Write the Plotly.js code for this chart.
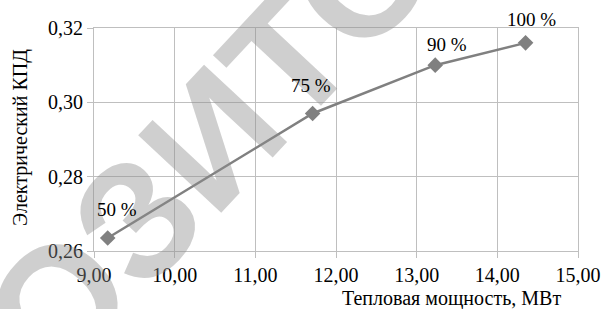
<!DOCTYPE html>
<html>
<head>
<meta charset="utf-8">
<script src="https://cdn.plot.ly/plotly-3.0.1.min.js"></script>
<style>html,body{margin:0;padding:0;background:#fff}#chart{width:607px;height:309px}</style>
</head>
<body>
<div id="chart"></div>
<script>
// Data
var heatPower = [9.17, 11.71, 13.23, 14.35];          // Тепловая мощность, МВт
var efficiency = [0.2635, 0.2970, 0.3100, 0.3160];    // Электрический КПД
var loadLabels = ['50 %', '75 %', '90 %', '100 %'];
var xTicks = [9, 10, 11, 12, 13, 14, 15];
var yTicks = [0.26, 0.28, 0.30, 0.32];

var serif = 'Liberation Serif, Times New Roman, serif';
var labelXShift = [9, -2, 12, 6];
var labelYShift = [28, 28, 21, 23];

var trace = {
  x: heatPower,
  y: efficiency,
  mode: 'lines+markers',
  line: {color: '#808080', width: 2.5},
  marker: {symbol: 'diamond', size: 12, color: '#808080'},
  cliponaxis: false,
  hoverinfo: 'none'
};

var annotations = [
  {text: '<b>РЕПОЗИТОРИЙ</b>', xref: 'paper', yref: 'paper', x: 0.245, y: 0.51,
   xanchor: 'center', yanchor: 'middle', textangle: -47, showarrow: false,
   font: {family: 'Liberation Sans, Arial, sans-serif', size: 165, color: 'rgba(140,140,140,0.42)'}},
  {text: 'Тепловая мощность, МВт', xref: 'paper', yref: 'paper', x: 0.738, y: -0.211,
   xanchor: 'center', yanchor: 'middle', showarrow: false,
   font: {family: serif, size: 20, color: '#000'}},
  {text: 'Электрический КПД', xref: 'paper', yref: 'paper', x: -0.153, y: 0.511,
   xanchor: 'center', yanchor: 'middle', textangle: -90, showarrow: false,
   font: {family: serif, size: 20, color: '#000'}}
];
for (var i = 0; i < loadLabels.length; i++) {
  annotations.push({
    x: heatPower[i], y: efficiency[i], xref: 'x', yref: 'y',
    text: loadLabels[i], showarrow: false,
    xanchor: 'center', yanchor: 'middle',
    xshift: labelXShift[i], yshift: labelYShift[i],
    font: {family: serif, size: 19, color: '#000'}
  });
}

var layout = {
  width: 607, height: 309,
  margin: {l: 94, r: 29, t: 28, b: 58},
  paper_bgcolor: '#fff', plot_bgcolor: '#fff',
  separators: ', ',
  showlegend: false,
  font: {family: serif, size: 20, color: '#000'},
  xaxis: {
    range: [9, 15], tickvals: xTicks, tickformat: '.2f',
    showgrid: true, gridcolor: '#bfbfbf', gridwidth: 1,
    ticks: 'outside', ticklen: 6, tickcolor: '#bfbfbf',
    showline: true, linecolor: '#bfbfbf', mirror: true,
    zeroline: false, tickfont: {family: serif, size: 20, color: '#000'}
  },
  yaxis: {
    range: [0.26, 0.32], tickvals: yTicks, tickformat: '.2f',
    showgrid: true, gridcolor: '#bfbfbf', gridwidth: 1,
    ticks: 'outside', ticklen: 6, tickcolor: '#bfbfbf',
    showline: true, linecolor: '#bfbfbf', mirror: true,
    zeroline: false, tickfont: {family: serif, size: 20, color: '#000'}
  },
  annotations: annotations
};

Plotly.newPlot('chart', [trace], layout, {displayModeBar: false, staticPlot: true});
</script>
</body>
</html>
